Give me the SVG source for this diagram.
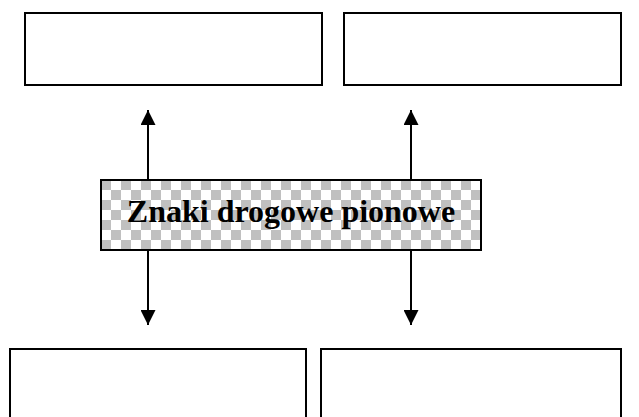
<svg xmlns="http://www.w3.org/2000/svg" width="639" height="417" viewBox="0 0 639 417">
  <defs>
    <pattern id="checker" x="101" y="180" width="20" height="20" patternUnits="userSpaceOnUse">
      <rect width="20" height="20" fill="#ffffff"/>
      <rect x="0" y="0" width="10" height="10" fill="#c0c0c0"/>
      <rect x="10" y="10" width="10" height="10" fill="#c0c0c0"/>
    </pattern>
    <marker id="arrow" viewBox="0 0 15 15" refX="15" refY="7.5" markerWidth="15" markerHeight="15" markerUnits="userSpaceOnUse" orient="auto">
      <path d="M0,0 L15,7.5 L0,15 Z" fill="#000"/>
    </marker>
  </defs>
  <style>
    .box { fill: #ffffff; stroke: #000000; stroke-width: 2; }
    .conn { stroke: #000000; stroke-width: 2; fill: none; marker-end: url(#arrow); }
    .label { font-family: "Liberation Serif", "Times New Roman", serif; font-weight: bold; font-size: 32px; fill: #000; }
  </style>
  <rect width="639" height="417" fill="#ffffff"/>
  <g id="node-top-left"><rect class="box" x="25" y="13" width="297" height="72"/></g>
  <g id="node-top-right"><rect class="box" x="344" y="13" width="277" height="72"/></g>
  <g id="node-bottom-left"><rect class="box" x="10" y="349" width="296" height="80"/></g>
  <g id="node-bottom-right"><rect class="box" x="321" y="349" width="300" height="80"/></g>
  <g id="connectors">
    <line class="conn" x1="148" y1="180" x2="148" y2="110"/>
    <line class="conn" x1="411" y1="180" x2="411" y2="110"/>
    <line class="conn" x1="148" y1="250" x2="148" y2="325"/>
    <line class="conn" x1="411" y1="250" x2="411" y2="325"/>
  </g>
  <g id="node-center">
    <rect x="101" y="180" width="380" height="70" fill="url(#checker)" stroke="#000" stroke-width="2"/>
    <text class="label" x="291" y="222" text-anchor="middle">Znaki drogowe pionowe</text>
  </g>
</svg>
